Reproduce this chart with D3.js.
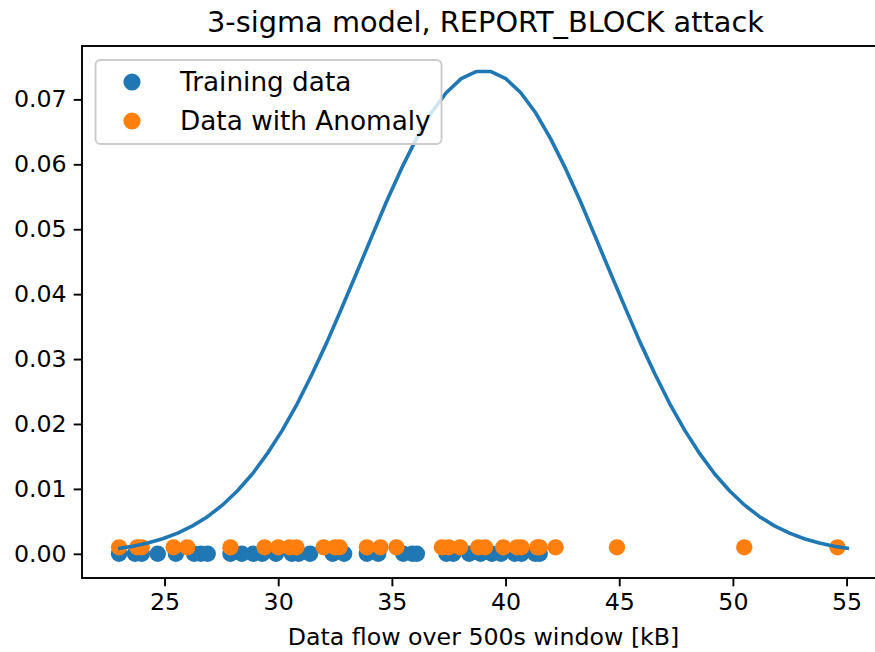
<!DOCTYPE html>
<html>
<head>
<meta charset="utf-8">
<script src="https://cdn.jsdelivr.net/npm/d3@7"></script>
<style>
  html, body { margin: 0; padding: 0; background: #fff; }
  svg { display: block; font-family: "DejaVu Sans", sans-serif; }
</style>
</head>
<body>
<div id="chart"></div>
<script>
// Training data (blue, y = 0)
const trainingX = [23.0, 23.7, 24.0, 24.7, 25.5, 26.3, 26.6, 26.9, 27.9, 28.4, 28.9, 29.3, 29.9,
  30.6, 30.9, 31.4, 32.4, 32.9, 33.9, 34.4, 35.5, 35.9, 36.1, 37.4, 37.7, 38.4, 38.9, 39.4,
  39.8, 40.4, 40.7, 41.3, 41.5];
const trainingY = trainingX.map(() => 0);

// Data with anomaly (orange, y = 0.001)
const anomalyX = [23.0, 23.8, 24.0, 25.4, 26.0, 27.9, 29.4, 30.0, 30.5, 30.8, 32.0, 32.5, 32.7,
  33.9, 34.5, 35.2, 37.2, 37.5, 38.0, 38.8, 39.1, 39.9, 40.5, 40.7, 41.4, 41.5, 42.2, 44.9,
  50.5, 54.6];
const anomalyY = anomalyX.map(() => 0.001);

// 3-sigma model curve
const curveX = [22.95, 23.61, 24.26, 24.92, 25.58, 26.23, 26.89, 27.54, 28.20, 28.86,
  29.51, 30.17, 30.83, 31.48, 32.14, 32.79, 33.45, 34.11, 34.76, 35.42,
  36.08, 36.73, 37.39, 38.05, 38.70, 39.36, 40.01, 40.67, 41.33, 41.98,
  42.64, 43.30, 43.95, 44.61, 45.27, 45.92, 46.58, 47.23, 47.89, 48.55,
  49.20, 49.86, 50.52, 51.17, 51.83, 52.49, 53.14, 53.80, 54.45, 55.11];
const curveY = [0.00083, 0.00118, 0.00167, 0.00233, 0.00319, 0.00430, 0.00572, 0.00749, 0.00967, 0.01229,
  0.01539, 0.01898, 0.02307, 0.02762, 0.03257, 0.03784, 0.04330, 0.04882, 0.05423, 0.05933,
  0.06395, 0.06790, 0.07102, 0.07319, 0.07429, 0.07429, 0.07319, 0.07102, 0.06790, 0.06395,
  0.05933, 0.05423, 0.04882, 0.04330, 0.03784, 0.03257, 0.02762, 0.02307, 0.01898, 0.01539,
  0.01229, 0.00967, 0.00749, 0.00572, 0.00430, 0.00319, 0.00233, 0.00167, 0.00118, 0.00083];

const xTicks = [25, 30, 35, 40, 45, 50, 55];
const yTicks = [0, 0.01, 0.02, 0.03, 0.04, 0.05, 0.06, 0.07];

const W = 875, H = 652;
const mLeft = 82, mTop = 46, mRight = 885, mBottom = 578;
const blue = "#1f77b4", orange = "#ff7f0e";
const dotR = 8.2;

const svg = d3.select("#chart").append("svg")
  .attr("width", W).attr("height", H);

const x = d3.scaleLinear().domain([21.37, 56.69]).range([mLeft, mRight]);
const y = d3.scaleLinear().domain([-0.003725, 0.078225]).range([mBottom, mTop]);

svg.append("clipPath").attr("id", "clip")
  .append("rect").attr("x", mLeft).attr("y", mTop)
  .attr("width", mRight - mLeft).attr("height", mBottom - mTop);

const plot = svg.append("g").attr("clip-path", "url(#clip)");

plot.selectAll("circle.train")
  .data(trainingX.map((v, i) => [v, trainingY[i]]))
  .enter().append("circle")
  .attr("class", "train")
  .attr("cx", d => x(d[0])).attr("cy", d => y(d[1]))
  .attr("r", dotR).attr("fill", blue);

plot.selectAll("circle.anom")
  .data(anomalyX.map((v, i) => [v, anomalyY[i]]))
  .enter().append("circle")
  .attr("class", "anom")
  .attr("cx", d => x(d[0])).attr("cy", d => y(d[1]))
  .attr("r", dotR).attr("fill", orange);

const line = d3.line().x(d => x(d[0])).y(d => y(d[1]));
plot.append("path")
  .datum(curveX.map((v, i) => [v, curveY[i]]))
  .attr("d", line)
  .attr("fill", "none")
  .attr("stroke", blue)
  .attr("stroke-width", 3.6)
  .attr("stroke-linejoin", "round");

// axes
const xAxis = svg.append("g").attr("transform", `translate(0,${mBottom})`)
  .call(d3.axisBottom(x).tickValues(xTicks).tickSize(8.3).tickPadding(7).tickFormat(d3.format("d")));
const yAxis = svg.append("g").attr("transform", `translate(${mLeft},0)`)
  .call(d3.axisLeft(y).tickValues(yTicks).tickSize(8.3).tickPadding(7).tickFormat(d3.format(".2f")));

[xAxis, yAxis].forEach(g => {
  g.select(".domain").remove();
  g.selectAll(".tick line").attr("stroke", "#000").attr("stroke-width", 1.9);
  g.selectAll(".tick text").attr("fill", "#000")
    .style("font-size", "23.7px").style("font-family", "DejaVu Sans, sans-serif");
});

// spines
svg.append("rect")
  .attr("x", mLeft).attr("y", mTop)
  .attr("width", mRight - mLeft).attr("height", mBottom - mTop)
  .attr("fill", "none").attr("stroke", "#000").attr("stroke-width", 1.9);

// title & label
svg.append("text")
  .attr("x", (mLeft + mRight) / 2 + 2).attr("y", 32)
  .attr("text-anchor", "middle")
  .style("font-size", "28.8px")
  .text("3-sigma model, REPORT_BLOCK attack");

svg.append("text")
  .attr("x", (mLeft + mRight) / 2).attr("y", 645)
  .attr("text-anchor", "middle")
  .style("font-size", "23.7px")
  .text("Data flow over 500s window [kB]");

// legend
const legend = svg.append("g");
legend.append("rect")
  .attr("x", 95.5).attr("y", 60).attr("width", 346).attr("height", 84)
  .attr("rx", 5).attr("ry", 5)
  .attr("fill", "#fff").attr("fill-opacity", 0.8)
  .attr("stroke", "#ccc").attr("stroke-width", 1.9);

const legendItems = [
  { label: "Training data", color: blue },
  { label: "Data with Anomaly", color: orange }
];
legendItems.forEach((d, i) => {
  const cy = 82 + i * 39;
  legend.append("circle").attr("cx", 132).attr("cy", cy).attr("r", 8.6).attr("fill", d.color);
  legend.append("text").attr("x", 180).attr("y", cy + 9)
    .style("font-size", "26.3px").text(d.label);
});
</script>
</body>
</html>
